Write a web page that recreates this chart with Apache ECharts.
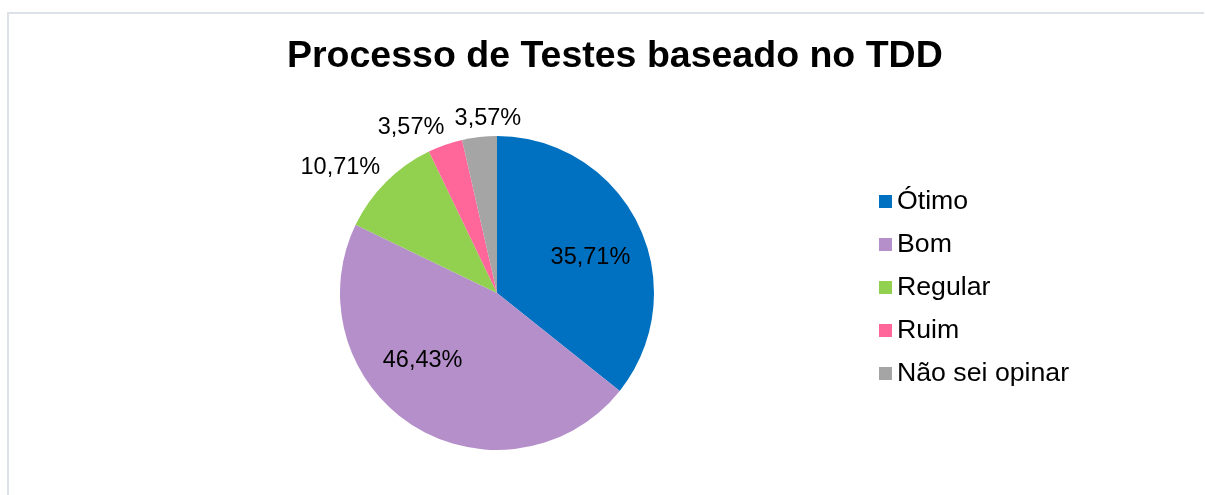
<!DOCTYPE html>
<html>
<head>
<meta charset="utf-8">
<script src="https://cdn.jsdelivr.net/npm/echarts@6/dist/echarts.min.js"></script>
<style>
  html, body { margin: 0; padding: 0; background: #fff; }
  #main { width: 1205px; height: 495px; }
</style>
</head>
<body>
<div id="main"></div>
<script>
const categories = ['Ótimo', 'Bom', 'Regular', 'Ruim', 'Não sei opinar']
const percentages = [35.71, 46.43, 10.71, 3.57, 3.57]
const colors = ['#0070C0', '#B48FCA', '#92D050', '#FF6699', '#A5A5A5']

// shift of each label from its default (inside) spot, like Excel's best fit
const labelShift = [[20, 0], [-31, -1], [-99, -68], [-59, -89], [0, -93]]

const chartDom = document.getElementById('main')
const myChart = echarts.init(chartDom)

window.onresize = function () {
  myChart.resize()
}

let option = {
  backgroundColor: '#ffffff',
  animation: false,
  color: colors,
  title: {
    text: 'Processo de Testes baseado no TDD',
    left: 287,
    top: 38,
    padding: 0,
    textStyle: {
      fontFamily: 'Liberation Sans, Arial',
      fontSize: 37.5,
      fontWeight: 'bold',
      color: '#000',
    },
  },
  legend: {
    orient: 'vertical',
    left: 879,
    top: 188,
    padding: 0,
    itemWidth: 13,
    itemHeight: 13,
    itemGap: 16,
    icon: 'rect',
    textStyle: {
      fontFamily: 'Liberation Sans, Arial',
      fontSize: 26.7,
      color: '#000',
      lineHeight: 26,
    },
    data: categories,
  },
  graphic: [
    {
      type: 'polyline',
      shape: { points: [[8, 495], [8, 13], [1204, 13]] },
      style: { stroke: '#dde2e8', lineWidth: 2, fill: null },
      silent: true,
    },
  ],
  series: [
    {
      name: 'TDD',
      type: 'pie',
      center: [497, 293],
      radius: 157,
      startAngle: 90,
      clockwise: true,
      avoidLabelOverlap: false,
      label: {
        show: true,
        position: 'inside',
        fontFamily: 'Liberation Sans, Arial',
        fontSize: 23.5,
        color: '#000',
        formatter: function (p) {
          return p.value.toFixed(2).replace('.', ',') + '%'
        },
      },
      labelLine: { show: false },
      labelLayout: function (params) {
        const s = labelShift[params.dataIndex]
        return { dx: s[0], dy: s[1] }
      },
      itemStyle: { borderWidth: 0 },
      emphasis: { disabled: true },
      data: categories.map(function (name, i) {
        return { name: name, value: percentages[i] }
      }),
    },
  ],
}
myChart.setOption(option)
</script>
</body>
</html>
